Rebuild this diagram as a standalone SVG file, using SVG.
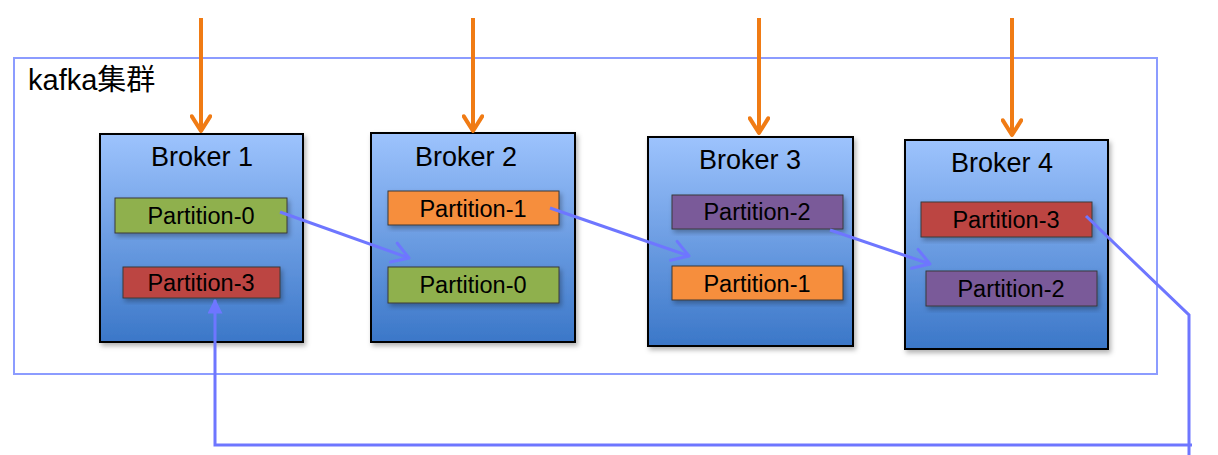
<svg xmlns="http://www.w3.org/2000/svg" width="1218" height="455" viewBox="0 0 1218 455">
<defs>
<linearGradient id="bg" x1="0" y1="0" x2="0" y2="1">
<stop offset="0" stop-color="#9dc3fd"/>
<stop offset="1" stop-color="#3b77c8"/>
</linearGradient>
<filter id="sh" x="-10%" y="-10%" width="130%" height="130%">
<feDropShadow dx="2" dy="3" stdDeviation="2.5" flood-color="#000" flood-opacity="0.3"/>
</filter>
<marker id="oa" viewBox="0 0 12 12" refX="10" refY="6" markerWidth="5.5" markerHeight="5.5" orient="auto" markerUnits="strokeWidth">
<path d="M2,1 L10,6 L2,11" fill="none" stroke="#f07b14" stroke-width="2.2" stroke-linecap="round" stroke-linejoin="round"/>
</marker>
<marker id="ba" viewBox="0 0 12 12" refX="10" refY="6" markerWidth="8" markerHeight="8" orient="auto" markerUnits="strokeWidth">
<path d="M2,1 L10,6 L2,11" fill="none" stroke="#6e76ff" stroke-width="1.5" stroke-linecap="round" stroke-linejoin="round"/>
</marker>
<marker id="bf" viewBox="0 0 10 10" refX="9" refY="5" markerWidth="5" markerHeight="5" orient="auto" markerUnits="strokeWidth">
<path d="M0,0 L10,5 L0,10 Z" fill="#6e76ff"/>
</marker>
</defs>
<style>
.broker{fill:url(#bg);stroke:#000;stroke-width:2;filter:url(#sh)}
.bt{font-family:"Liberation Sans",Arial,sans-serif;font-size:27px;fill:#000;text-anchor:middle}
.pt{font-family:"Liberation Sans",Arial,sans-serif;font-size:23.5px;fill:#000;text-anchor:middle}
.p{stroke:#3a3a3a;stroke-width:1;filter:url(#sh)}
.g{fill:#8fb04d}.o{fill:#f68e3c}.v{fill:#7a5a99}.r{fill:#bc4542}
.or{stroke:#f07b14;stroke-width:4;fill:none;marker-end:url(#oa)}
.bl{stroke:#6e76ff;stroke-width:3;fill:none}
</style>
<g id="cluster">
<rect x="14" y="58" width="1143" height="316" fill="none" stroke="#8c9cff" stroke-width="2"/>
<text x="28" y="90" font-family="'Liberation Sans','Noto Sans CJK SC',sans-serif" font-size="29" fill="#000">kafka集群</text>
</g>
<g id="broker1">
<rect class="broker" x="100" y="134" width="203" height="208"/>
<text class="bt" x="202" y="166">Broker 1</text>
<rect class="p g" x="115" y="198" width="172" height="35"/>
<text class="pt" x="201" y="224">Partition-0</text>
<rect class="p r" x="123" y="267" width="157" height="31"/>
<text class="pt" x="201" y="291">Partition-3</text>
</g>
<g id="broker2">
<rect class="broker" x="371" y="133" width="204" height="209"/>
<text class="bt" x="466" y="166">Broker 2</text>
<rect class="p o" x="388" y="191" width="171" height="34"/>
<text class="pt" x="473" y="217">Partition-1</text>
<rect class="p g" x="388" y="267" width="171" height="36"/>
<text class="pt" x="473" y="293">Partition-0</text>
</g>
<g id="broker3">
<rect class="broker" x="648" y="137" width="205" height="209"/>
<text class="bt" x="750" y="169">Broker 3</text>
<rect class="p v" x="672" y="195" width="171" height="34"/>
<text class="pt" x="757" y="220">Partition-2</text>
<rect class="p o" x="672" y="266" width="171" height="34"/>
<text class="pt" x="757" y="292">Partition-1</text>
</g>
<g id="broker4">
<rect class="broker" x="905" y="140" width="203" height="209"/>
<text class="bt" x="1002" y="172">Broker 4</text>
<rect class="p r" x="921" y="202" width="171" height="35"/>
<text class="pt" x="1006" y="228">Partition-3</text>
<rect class="p v" x="926" y="271" width="171" height="35"/>
<text class="pt" x="1011" y="297">Partition-2</text>
</g>
<g id="connectors">
<line class="or" x1="201" y1="18" x2="201" y2="131"/>
<line class="or" x1="473" y1="18" x2="473" y2="131"/>
<line class="or" x1="759" y1="18" x2="759" y2="133"/>
<line class="or" x1="1012" y1="18" x2="1012" y2="135"/>
<line class="bl" x1="280" y1="212" x2="409" y2="258" marker-end="url(#ba)"/>
<line class="bl" x1="550" y1="208" x2="689" y2="256" marker-end="url(#ba)"/>
<line class="bl" x1="830" y1="230" x2="930" y2="264" marker-end="url(#ba)"/>
<polyline class="bl" points="1086,216 1189,315 1189,455"/>
<polyline class="bl" points="1192,445 215,445 215,300" marker-end="url(#bf)"/>
</g>
</svg>
